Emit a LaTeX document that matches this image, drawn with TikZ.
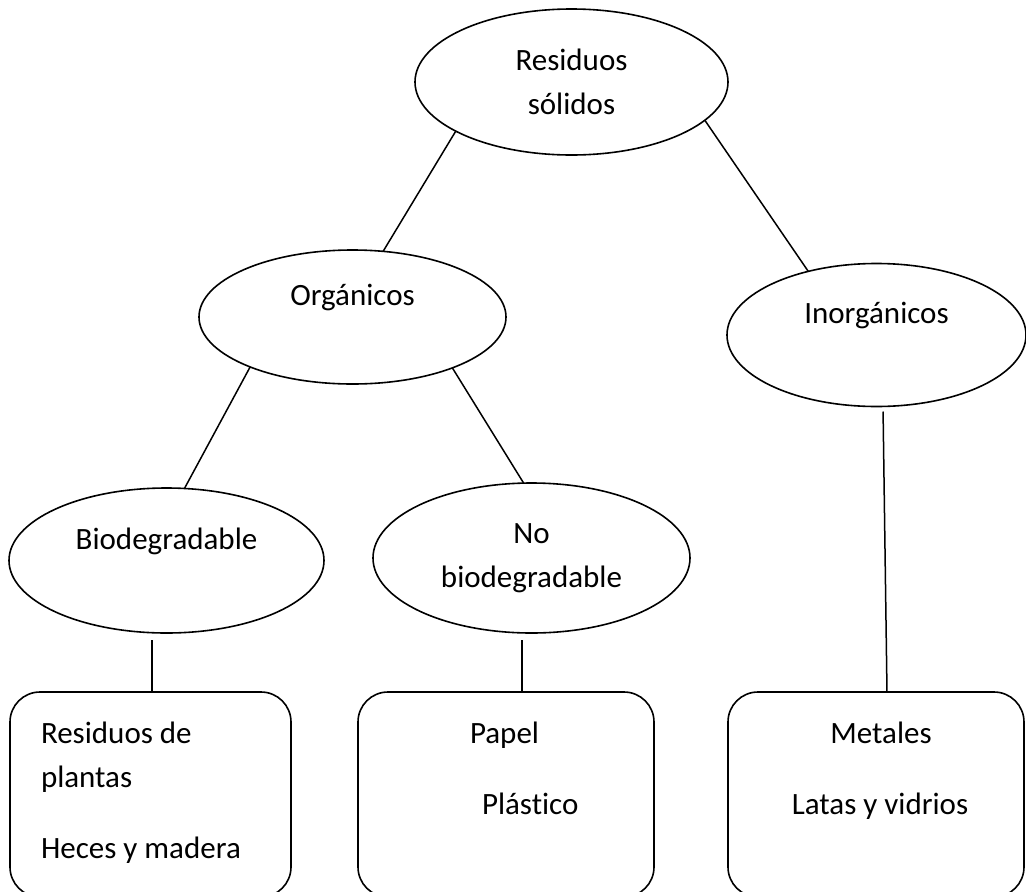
\documentclass[tikz,border=0pt]{standalone}
\usepackage{fontspec}
\setmainfont{Carlito}[RawFeature={-liga;-dlig;-clig;-hlig;-calt}]
\usetikzlibrary{shapes.geometric}
\begin{document}
\begin{tikzpicture}[x=1pt,y=-1pt,
  every node/.style={font=\fontsize{31}{44}\selectfont, inner sep=0pt, outer sep=0pt},
  oval/.style={draw, ellipse, line width=1.6pt, align=center},
  boxnode/.style={draw, rectangle, rounded corners=30pt, line width=1.6pt, anchor=north west},
  txt/.style={anchor=base west},
  txtc/.style={anchor=base},
  link/.style={line width=1.5pt}]
\useasboundingbox (0,0) rectangle (1026,892);
\clip (0,0) rectangle (1026,892);
% ellipses
\node[oval, minimum width=313pt, minimum height=146pt] (e1) at (571.5,82) {Residuos\\sólidos};
\node[oval, minimum width=307pt, minimum height=134pt] (e2) at (352.5,317) {Orgánicos\\\mbox{}};
\node[oval, minimum width=299pt, minimum height=143pt] (e3) at (876.5,335) {Inorgánicos\\\mbox{}};
\node[oval, minimum width=315pt, minimum height=145pt] (e4) at (166.5,560.5) {Biodegradable\\\mbox{}};
\node[oval, minimum width=317pt, minimum height=150pt] (e5) at (531.5,558) {No\\biodegradable};
% boxes
\node[boxnode, minimum width=281pt, minimum height=205pt] (b1) at (10,692) {};
\node[boxnode, minimum width=296pt, minimum height=205pt] (b2) at (358,692) {};
\node[boxnode, minimum width=296pt, minimum height=205pt] (b3) at (728,692) {};
% box texts
\node[txt] (t11) at (41,743) {Residuos de};
\node[txt] (t12) at (41,787) {plantas};
\node[txt] (t13) at (41,858) {Heces y madera};
\node[txt] (t21) at (470,743) {Papel};
\node[txt] (t22) at (482,814) {Plástico};
\node[txtc] (t31) at (881,743) {Metales};
\node[txtc] (t32) at (880,814) {Latas y vidrios};
% connectors
\draw[link] (e1.203.5) -- (e2.65.9);
\draw[link] (e1.344.8) -- (e3.137.4);
\draw[link] (e2.206) -- (e4.76.6);
\draw[link] (e2.333.6) -- (e5.96.5);
\draw[link, shorten >=7pt] ([xshift=1.5pt]b1.north) -- ([xshift=1.5pt]b1.north |- e4.south);
\draw[link, shorten >=7pt] ([xshift=16pt]b2.north) -- ([xshift=16pt]b2.north |- e5.south);
\draw[link, shorten <=5pt] ([xshift=6.5pt]e3.south) -- ([xshift=11pt]b3.north);
\end{tikzpicture}
\end{document}
